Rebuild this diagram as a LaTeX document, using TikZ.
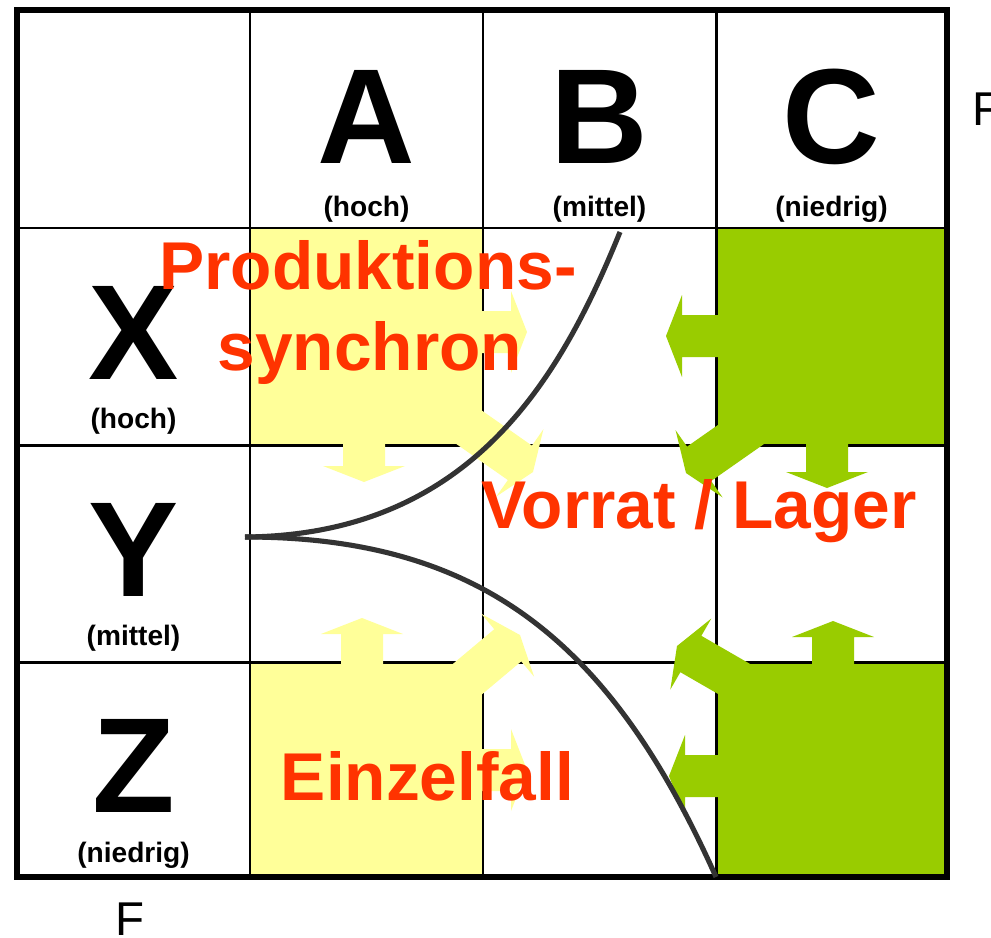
\documentclass[tikz,border=0pt]{standalone}
\usepackage{fontspec}
\setmainfont{Liberation Sans}
\setsansfont{Liberation Sans}
\usetikzlibrary{positioning}
\definecolor{cyellow}{HTML}{FFFF99}
\definecolor{cgreen}{HTML}{99CC00}
\definecolor{cred}{HTML}{FF3300}
\definecolor{cdark}{HTML}{333333}
\tikzset{
  every picture/.style={font=\sffamily},
  gridline/.style={line width=1.7pt},
  frame/.style={line width=3.2pt},
  bigletter/.style={font=\fontsize{77}{77}\selectfont\bfseries, anchor=base, inner sep=0pt},
  sublabel/.style={font=\fontsize{16}{16}\selectfont\bfseries, anchor=base, inner sep=0pt},
  redtext/.style={font=\fontsize{38.5}{46}\selectfont\bfseries, text=cred, anchor=base, inner sep=0pt},
  axislabel/.style={font=\fontsize{27}{27}\selectfont, anchor=base west, inner sep=0pt},
  curve/.style={draw=cdark, line width=2.9pt},
}
% block arrow: colour, tip, angle, total length
\newcommand\blockarrow[4]{%
  \fill[#1, shift={#2}, rotate=#3] (-#4,-21) -- (-16,-21) -- (-16,-41) -- (0,0)
    -- (-16,41) -- (-16,21) -- (-#4,21) -- cycle;}
\begin{document}
\begin{tikzpicture}[x=0.02cm, y=-0.02cm]
  \useasboundingbox[fill=white] (0,0) rectangle (991,937);
  % cell fills
  \fill[cyellow] (250,228) rectangle (483,445);
  \fill[cyellow] (250,662) rectangle (483,877);
  \fill[cgreen] (716,228) rectangle (947,445);
  \fill[cgreen] (716,662) rectangle (947,877);
  % grid
  \foreach \x in {250,483,716} \draw[gridline] (\x,10) -- (\x,877);
  \foreach \y in {228,445,662} \draw[gridline] (17,\y) -- (947,\y);
  % yellow arrows
  \blockarrow{cyellow}{(527,332)}{0}{57}
  \blockarrow{cyellow}{(364,482)}{-90}{52}
  \blockarrow{cyellow}{(533,472)}{-35}{100}
  \blockarrow{cyellow}{(362,618)}{90}{56}
  \blockarrow{cyellow}{(520,635)}{40}{100}
  \blockarrow{cyellow}{(527,770)}{0}{60}
  % green arrows
  \blockarrow{cgreen}{(666,336)}{180}{65}
  \blockarrow{cgreen}{(686,473)}{-145}{100}
  \blockarrow{cgreen}{(827,488)}{-90}{60}
  \blockarrow{cgreen}{(833,621)}{90}{60}
  \blockarrow{cgreen}{(677,646)}{150}{100}
  \blockarrow{cgreen}{(669,776)}{180}{60}
  % frame
  \draw[frame] (17,10) rectangle (947,877);
  % curves
  \coordinate (cusp) at (245,537);
  \coordinate (top) at (620,232);
  \coordinate (bottom) at (716,877);
  \draw[curve] (cusp) .. controls (470,535) and (560,380) .. (top);
  \draw[curve] (cusp) .. controls (480,537) and (610,640) .. (bottom);
  % column heads
  \node[bigletter] (colA) at (366.5,163) {A};
  \node[bigletter] (colB) at (599.5,163) {B};
  \node[bigletter] (colC) at (831.5,163) {C};
  \node[sublabel] (colAsub) at (366.5,216) {(hoch)};
  \node[sublabel] (colBsub) at (599.5,216) {(mittel)};
  \node[sublabel] (colCsub) at (831.5,216) {(niedrig)};
  % row heads
  \node[bigletter] (rowX) at (133.5,379) {X};
  \node[bigletter] (rowY) at (133.5,596) {Y};
  \node[bigletter] (rowZ) at (133.5,812) {Z};
  \node[sublabel] (rowXsub) at (133.5,428) {(hoch)};
  \node[sublabel] (rowYsub) at (133.5,645) {(mittel)};
  \node[sublabel] (rowZsub) at (133.5,862) {(niedrig)};
  % areas
  \node[redtext] (prod) at (368,289) {Produktions-};
  \node[redtext] (sync) at (370,370) {synchron};
  \node[redtext] (lager) at (699,528) {Vorrat / Lager};
  \node[redtext] (einzel) at (427.5,800) {Einzelfall};
  % cut-off labels
  \node[axislabel] (fright) at (972,125) {F};
  \node[axislabel] (fbottom) at (115,935) {F};
\end{tikzpicture}
\end{document}
